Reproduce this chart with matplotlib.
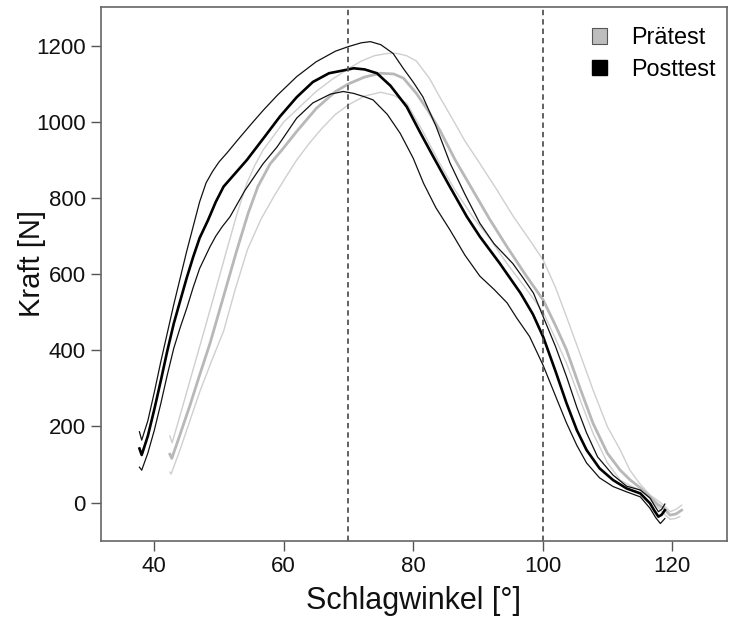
import numpy as np
import matplotlib
matplotlib.use("Agg")
import matplotlib.pyplot as plt
from matplotlib.patches import Patch

plt.rcParams['font.family'] = ['Liberation Sans', 'DejaVu Sans']

# Posttest: upper band, mean, lower band
post_hi_x = [37.7, 38.05, 39, 40, 41, 42, 43, 44, 45, 46, 47, 48, 49, 50, 51.2, 53, 55, 56.8, 59, 62,
             65, 68, 70, 72, 73.4, 75, 76.9, 78.5, 80, 81.5, 83.5, 85.7, 88, 90.3, 92.5, 95.4, 97,
             98.6, 100.1, 102, 103.7, 105.3, 106.8, 108.5, 110.9, 113, 115.1, 116.6, 117.3, 117.9,
             118.4, 118.9]
post_hi_y = [186, 164, 215, 290, 370, 445, 520, 590, 660, 725, 790, 840, 870, 895, 918, 955, 995, 1030,
             1070, 1119, 1158, 1186, 1198, 1208, 1211, 1203, 1180, 1140, 1105, 1066, 990, 892, 810,
             734, 680, 628, 590, 550, 488, 410, 331, 250, 183, 120, 72, 43, 33, 12, -8, -24, -18, -4]

post_m_x = [37.7, 38.05, 39, 40, 41, 42, 43, 44, 45, 46, 47, 48.3, 49.5, 50.7, 52.5, 54.3, 57, 59.4,
            62, 64.5, 67, 70, 70.8, 72.5, 74.4, 76.5, 79, 81, 83.1, 85.5, 88.3, 90.3, 93.4, 96.6,
            98.5, 100.1, 102, 103.7, 105.3, 106.8, 108.8, 110.9, 113, 115.1, 116.6, 117.3, 117.9,
            118.4, 118.9]
post_m_y = [142, 125, 175, 245, 320, 398, 470, 530, 590, 645, 695, 742, 790, 830, 865, 900, 960, 1014,
            1065, 1105, 1128, 1138, 1141, 1138, 1128, 1095, 1040, 975, 909, 835, 751, 699, 628, 550,
            495, 435, 345, 261, 190, 138, 90, 59, 37, 24, -2, -22, -37, -32, -20]

post_lo_x = [37.7, 38.05, 39, 40, 41, 42, 43, 44, 45, 46, 47, 48.6, 49.5, 50.5, 51.7, 54, 56.8, 59,
             62, 64.5, 67.2, 69.2, 70.8, 72.5, 73.8, 76, 78, 80, 81.6, 83.5, 85.7, 88, 90.3, 92.5,
             94.5, 96, 98, 100.1, 102, 103.7, 105.3, 106.8, 108.8, 110.9, 113, 115.1, 116.6, 117.5,
             118.2, 118.9]
post_lo_y = [93, 85, 130, 190, 260, 335, 405, 460, 510, 565, 615, 672, 700, 725, 751, 820, 890, 935,
             1010, 1050, 1073, 1080, 1075, 1066, 1058, 1020, 970, 905, 839, 775, 716, 650, 595, 560,
             525, 485, 436, 360, 280, 209, 150, 104, 65, 42, 28, 15, -15, -40, -55, -42]

# Praetest: upper band, mean, lower band
pre_hi_x = [42.4, 42.75, 44, 45.5, 47.6, 49.5, 51.2, 52.8, 54.3, 55.5, 56.8, 58.5, 60, 62.5, 65, 67.5,
            70, 72, 74, 76, 77.5, 79, 80.5, 82.5, 84.1, 86, 88, 90.3, 93, 95.5, 98, 100.1, 102, 103.7,
            105.8, 107.8, 110, 112, 113.5, 115, 116.6, 117.8, 118.7, 119.7, 120.6, 121.5]
pre_hi_y = [175, 157, 230, 320, 445, 560, 664, 760, 839, 885, 926, 965, 1000, 1040, 1080, 1112, 1140,
            1160, 1174, 1180, 1180, 1174, 1160, 1115, 1066, 1010, 950, 891, 820, 751, 690, 637, 565,
            488, 390, 296, 200, 138, 85, 50, 20, 5, -7, -24, -18, -7]

pre_m_x = [42.4, 42.7, 44, 45.5, 47, 48.6, 50.5, 52.7, 54.5, 56, 57.9, 59.7, 62, 65, 68, 70, 72.5, 75,
           77, 78.5, 80.5, 82.3, 84.1, 86.5, 89.2, 91.8, 94.5, 97.3, 100.1, 102, 103.7, 105.8, 107.8,
           110, 112, 113.5, 115, 116.6, 117.8, 118.7, 119.7, 120.6, 121.5]
pre_m_y = [127, 116, 180, 255, 335, 418, 530, 660, 760, 830, 890, 926, 975, 1035, 1080, 1100, 1118,
           1128, 1126, 1115, 1075, 1030, 979, 900, 821, 745, 672, 600, 532, 465, 401, 300, 208, 130,
           85, 60, 40, 15, -5, -15, -33, -30, -20]

pre_lo_x = [42.4, 42.6, 44, 45.5, 47, 48.8, 50.7, 52.5, 54.4, 56.5, 58.5, 60.5, 62, 64, 66, 68, 70,
            72.5, 75, 77, 79, 81.5, 84.1, 86.5, 89.2, 92, 94.5, 97.3, 100.1, 102, 103.7, 105.8, 107.8,
            110, 112, 113.5, 115, 116.6, 117.8, 118.7, 119.7, 120.5, 121.2]
pre_lo_y = [80, 75, 140, 215, 290, 370, 450, 560, 665, 745, 805, 860, 900, 945, 985, 1020, 1045, 1068,
            1078, 1070, 1049, 975, 891, 820, 751, 690, 628, 565, 500, 430, 366, 270, 182, 105, 59, 45,
            33, 11, -12, -28, -44, -42, -37]

vlines = [70, 100]
x_ticks = [40, 60, 80, 100, 120]
y_ticks = [0, 200, 400, 600, 800, 1000, 1200]

fig = plt.figure(figsize=(7.33, 6.2), dpi=100)
ax = fig.add_axes([101/733, 1 - 541/620, 626/733, 534/620])

light = '#cfcfcf'
mid = '#b8b8b8'
ax.plot(pre_hi_x, pre_hi_y, color=light, lw=1.0)
ax.plot(pre_lo_x, pre_lo_y, color=light, lw=1.0)
ax.plot(pre_m_x, pre_m_y, color=mid, lw=2.0)
ax.plot(post_hi_x, post_hi_y, color='#111111', lw=0.9)
ax.plot(post_lo_x, post_lo_y, color='#111111', lw=0.9)
ax.plot(post_m_x, post_m_y, color='black', lw=1.9)

for v in vlines:
    ax.axvline(v, color='#555555', lw=1.3, ls=(0, (3, 2.2)))

ax.set_xlim(31.76, 128.5)
ax.set_ylim(-101, 1302)
ax.set_xticks(x_ticks)
ax.set_yticks(y_ticks)
ax.tick_params(direction='out', length=7, width=1, color='#555555', labelsize=16,
               labelcolor='#111111', pad=4)
for s in ax.spines.values():
    s.set_color('#666666')
    s.set_linewidth(1.2)

ax.set_xlabel('Schlagwinkel [°]', fontsize=22, color='#111111', labelpad=6)
ax.set_ylabel('Kraft [N]', fontsize=21, color='#111111')
ax.yaxis.set_label_coords(-0.088, 0.52)

handles = [Patch(facecolor='#bdbdbd', edgecolor='#555555', lw=0.8, label='Prätest'),
           Patch(facecolor='black', edgecolor='black', label='Posttest')]
ax.legend(handles=handles, loc='upper right', frameon=False, fontsize=16.8,
          handlelength=0.62, handleheight=0.62, handletextpad=1.05, labelspacing=0.38,
          borderaxespad=0.55, bbox_to_anchor=(1 + 11/626, 1 + 3/534))

fig.savefig('out.png', dpi=100)
